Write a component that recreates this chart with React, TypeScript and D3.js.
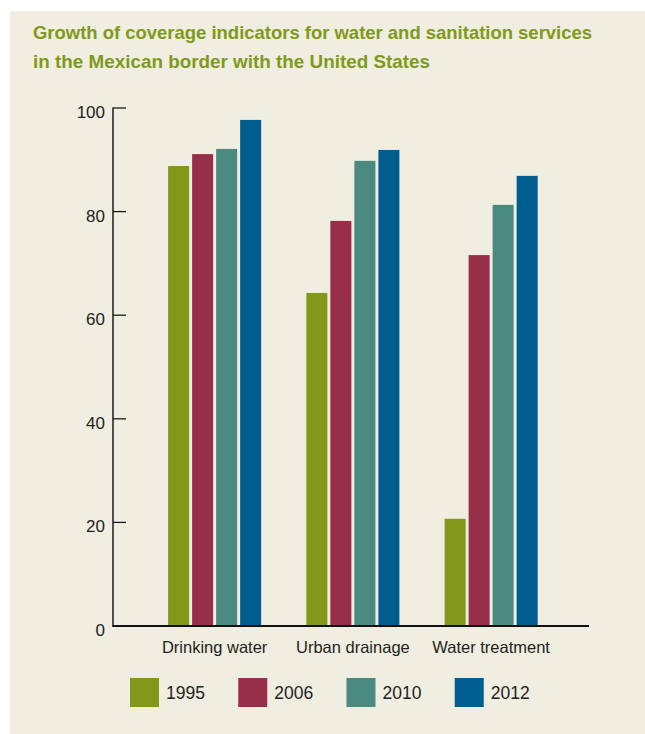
import React from "react";
import * as d3 from "d3";

const categories = ["Drinking water", "Urban drainage", "Water treatment"];
const years = ["1995", "2006", "2010", "2012"];
const values1995 = [88.8, 64.3, 20.7];
const values2006 = [91.1, 78.2, 71.6];
const values2010 = [92.1, 89.8, 81.3];
const values2012 = [97.7, 91.9, 86.9];
const seriesValues = [values1995, values2006, values2010, values2012];
const yTicks = [0, 20, 40, 60, 80, 100];
const colors = ["#83981a", "#972e4a", "#4a8a80", "#005d8f"];
const titleLines = [
  "Growth of coverage indicators for water and sanitation services",
  "in the Mexican border with the United States",
];

const W = 645;
const H = 734;
const axisLeft = 113;
const axisRight = 589;
const y0 = 626;
const y100 = 108;
const font = "'Liberation Sans', Arial, sans-serif";

export default function App() {
  const y = d3.scaleLinear().domain([0, 100]).range([y0, y100]);
  const x0 = d3
    .scaleBand<string>()
    .domain(categories)
    .range([145.5, 560.25])
    .paddingInner(0.327)
    .paddingOuter(0.1635);
  const x1 = d3
    .scaleBand<string>()
    .domain(years)
    .range([0, x0.bandwidth()])
    .paddingInner(0.125)
    .paddingOuter(0);
  const legendX = d3.scaleBand<string>().domain(years).range([130, 563]);

  return (
    <svg
      width={W}
      height={H}
      style={{ position: "absolute", left: 0, top: 0 }}
      xmlns="http://www.w3.org/2000/svg"
    >
      <rect x={0} y={0} width={W} height={H} fill="#ffffff" />
      <rect x={10} y={11} width={W - 10} height={H - 11} fill="#f0ede1" />
      {titleLines.map((t, i) => (
        <text
          key={i}
          x={33}
          y={39 + i * 28.5}
          fill="#7f9a1a"
          fontFamily="'Liberation Sans Narrow', 'Liberation Sans', sans-serif"
          fontWeight="bold"
          fontSize={18.5}
          textLength={i === 0 ? 559 : 397}
          lengthAdjust="spacingAndGlyphs"
        >
          {t}
        </text>
      ))}
      {/* bars */}
      {categories.map((c, ci) => (
        <g key={c} transform={`translate(${x0(c)},0)`}>
          {years.map((yr, si) => (
            <rect
              key={yr}
              x={x1(yr)}
              y={y(seriesValues[si][ci])}
              width={x1.bandwidth()}
              height={y(0) - y(seriesValues[si][ci])}
              fill={colors[si]}
            />
          ))}
        </g>
      ))}
      {/* y axis */}
      <line x1={axisLeft} x2={axisLeft} y1={y(100) - 0.5} y2={y0} stroke="#1a1a1a" strokeWidth={1.5} />
      {yTicks.map((t) => (
        <g key={t}>
          {t > 0 && (
            <line x1={axisLeft} x2={axisLeft + 13} y1={y(t)} y2={y(t)} stroke="#1a1a1a" strokeWidth={1.3} />
          )}
          <text
            x={105}
            y={y(t) + 10}
            textAnchor="end"
            fontFamily={font}
            fontSize={17}
            fill="#231f20"
          >
            {t}
          </text>
        </g>
      ))}
      {/* x axis */}
      <line x1={axisLeft - 0.75} x2={axisRight} y1={y0} y2={y0} stroke="#111" strokeWidth={2} />
      {categories.map((c) => (
        <text
          key={c}
          x={(x0(c) as number) + x0.bandwidth() / 2}
          y={652.5}
          textAnchor="middle"
          fontFamily={font}
          fontSize={16.5}
          fill="#231f20"
        >
          {c}
        </text>
      ))}
      {/* legend */}
      {years.map((yr, i) => (
        <g key={yr} transform={`translate(${legendX(yr)},678)`}>
          <rect x={0} y={0} width={29} height={29} fill={colors[i]} />
          <text x={36} y={20.5} fontFamily={font} fontSize={17.5} fill="#231f20">
            {yr}
          </text>
        </g>
      ))}
    </svg>
  );
}
